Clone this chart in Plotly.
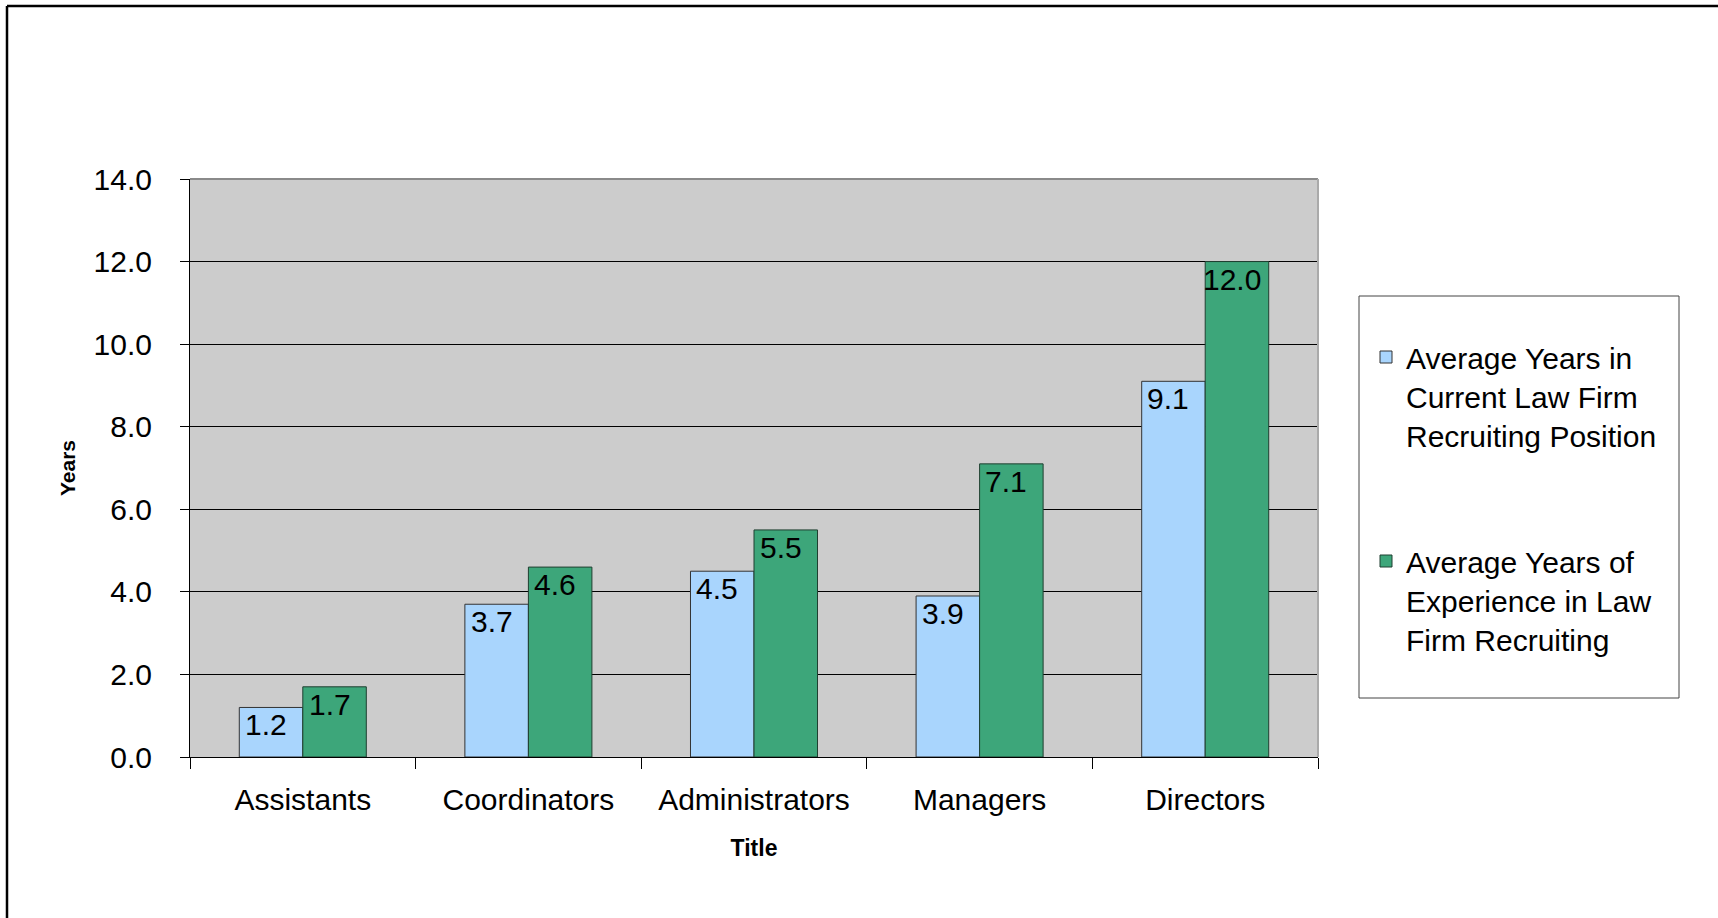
import plotly.graph_objects as go

# Survey results: average years by job title
titles = ["Assistants", "Coordinators", "Administrators", "Managers", "Directors"]
years_current_position = [1.2, 3.7, 4.5, 3.9, 9.1]
years_experience = [1.7, 4.6, 5.5, 7.1, 12.0]

series_names = [
    "Average Years in<br>Current Law Firm<br>Recruiting Position",
    "Average Years of<br>Experience in Law<br>Firm Recruiting",
]
y_tick_values = [0, 2, 4, 6, 8, 10, 12, 14]

FONT = "Liberation Sans, Arial, sans-serif"
BLUE = "#A9D5FD"
GREEN = "#3DA67A"

W, H = 1718, 918
L, R, T, B = 190, 400, 179, 161
plot_w = W - L - R
plot_h = H - T - B


def px_x(px):
    return (px - L) / plot_w


def px_y(py):
    return (H - B - py) / plot_h


fig = go.Figure()
fig.add_trace(go.Bar(
    x=titles, y=years_current_position, name=series_names[0],
    marker=dict(color=BLUE, line=dict(color="#333333", width=1)),
    legendgroup="a",
))
fig.add_trace(go.Bar(
    x=titles, y=years_experience, name=series_names[1],
    marker=dict(color=GREEN, line=dict(color="#1f3f30", width=1)),
    legendgroup="b",
))

# value labels sitting just inside the top of each bar
bar_half = plot_w / len(titles) * (1 - 0.437) / 4
annotations = []
for series, shift in ((years_current_position, -bar_half), (years_experience, bar_half)):
    for cat, val in zip(titles, series):
        annotations.append(dict(
            x=cat, y=val, xref="x", yref="y", text=f"{val:.1f}",
            showarrow=False, xanchor="center", yanchor="top",
            xshift=shift - 5, yshift=1,
            font=dict(family=FONT, size=30, color="black"),
        ))

shapes = [
    # frame of the plot area (top and right edges)
    dict(type="line", xref="paper", yref="paper", x0=0, x1=1, y0=1, y1=1,
         line=dict(color="#8a8a8a", width=2)),
    dict(type="line", xref="paper", yref="paper", x0=1, x1=1, y0=0, y1=1,
         line=dict(color="#aaaaaa", width=2)),
    # legend box
    dict(type="rect", xref="paper", yref="paper",
         x0=px_x(1359), x1=px_x(1679), y0=px_y(698), y1=px_y(296),
         line=dict(color="#444444", width=1), fillcolor="rgba(0,0,0,0)"),
    # outer chart border (top and left)
    dict(type="line", xref="paper", yref="paper",
         x0=px_x(7), x1=px_x(W + 5), y0=px_y(6), y1=px_y(6),
         line=dict(color="black", width=2.5)),
    dict(type="line", xref="paper", yref="paper",
         x0=px_x(7), x1=px_x(7), y0=px_y(6), y1=px_y(H + 5),
         line=dict(color="black", width=2.5)),
]

fig.update_layout(
    width=W, height=H,
    margin=dict(l=L, r=R, t=T, b=B),
    paper_bgcolor="white",
    plot_bgcolor="#CCCCCC",
    barmode="group",
    bargap=0.437,
    bargroupgap=0,
    font=dict(family=FONT, size=30, color="black"),
    showlegend=True,
    legend=dict(
        x=px_x(1366), xanchor="left",
        y=px_y(331), yanchor="top",
        bgcolor="rgba(0,0,0,0)", borderwidth=0,
        traceorder="grouped", tracegroupgap=84,
        valign="top",
        font=dict(family=FONT, size=30, color="black"),
    ),
    xaxis=dict(
        title=dict(text="<b>Title</b>", font=dict(family=FONT, size=23), standoff=24),
        showline=True, linecolor="black", linewidth=1,
        ticks="outside", tickson="boundaries", ticklen=11, tickcolor="black",
        ticklabelstandoff=16,
        tickfont=dict(family=FONT, size=30),
        showgrid=False,
    ),
    yaxis=dict(
        title=dict(text="<b>Years</b>", font=dict(family=FONT, size=21), standoff=12),
        range=[0, 14],
        tickvals=y_tick_values,
        tickformat=".1f",
        showline=True, linecolor="black", linewidth=1,
        ticks="outside", ticklen=9, tickcolor="black",
        ticklabelstandoff=22,
        tickfont=dict(family=FONT, size=30),
        showgrid=True, gridcolor="black", gridwidth=1,
        zeroline=False,
    ),
    annotations=annotations,
    shapes=shapes,
)

fig.write_html("out.html")
